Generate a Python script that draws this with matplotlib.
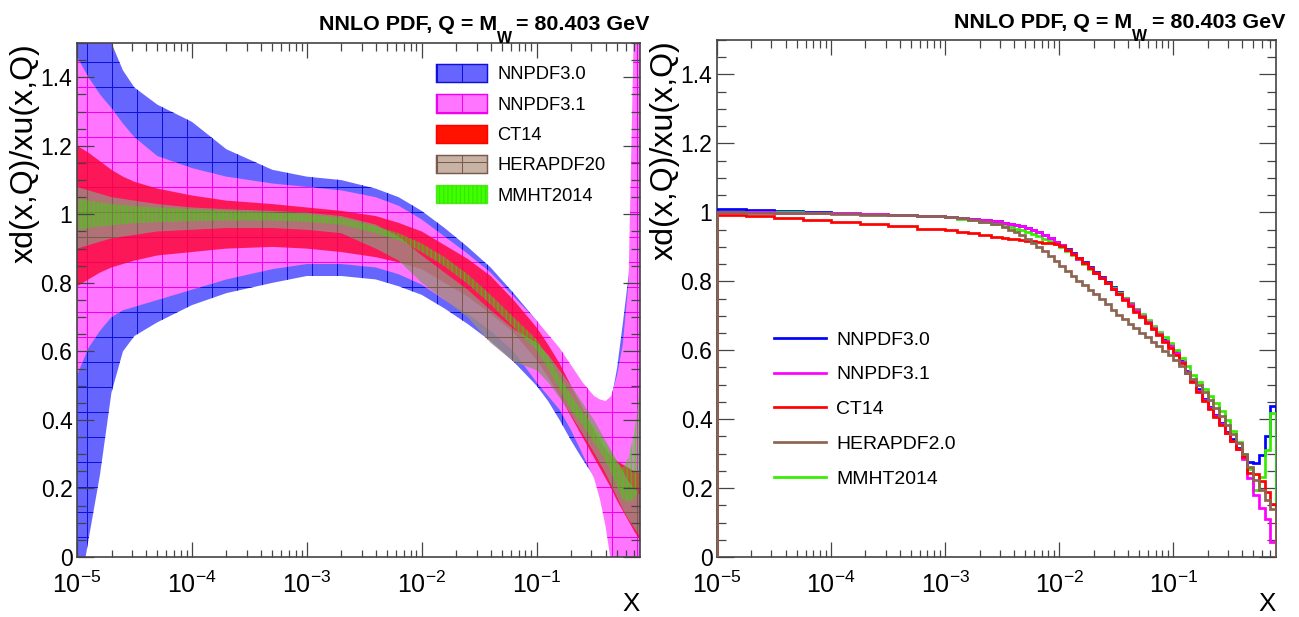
import numpy as np
import matplotlib
matplotlib.use('Agg')
import matplotlib.pyplot as plt
from matplotlib import font_manager
from matplotlib.patches import Patch
from matplotlib.lines import Line2D
from matplotlib.ticker import LogLocator, MultipleLocator, FuncFormatter, NullFormatter

# ---------------- data: left panel (uncertainty bands) ----------------
band_logx = [-5.0, -4.95, -4.9, -4.8, -4.7, -4.6, -4.5, -4.3, -4.0, -3.7, -3.3, -3.0,
             -2.7, -2.4, -2.2, -2.0, -1.8, -1.6, -1.4, -1.2, -1.0, -0.9, -0.8, -0.7,
             -0.6, -0.5, -0.45, -0.4, -0.35, -0.3, -0.25, -0.2, -0.15, -0.1]

nnpdf30_hi = [2.0, 1.9, 1.8, 1.62, 1.50, 1.42, 1.37, 1.32, 1.27, 1.19, 1.13, 1.11,
              1.10, 1.075, 1.05, 1.01, 0.96, 0.905, 0.845, 0.77, 0.69, 0.64, 0.585, 0.53,
              0.48, 0.44, 0.43, 0.43, 0.46, 0.55, 0.68, 0.82, 0.95, 1.05]
nnpdf30_lo = [-0.4, -0.05, 0.05, 0.24, 0.48, 0.60, 0.645, 0.685, 0.735, 0.77, 0.80, 0.82,
              0.82, 0.81, 0.79, 0.765, 0.725, 0.68, 0.63, 0.57, 0.50, 0.455, 0.40, 0.34,
              0.285, 0.235, 0.2, 0.16, 0.12, 0.1, 0.1, 0.12, 0.15, 0.2]

nnpdf31_hi = [1.46, 1.43, 1.40, 1.35, 1.31, 1.265, 1.225, 1.17, 1.135, 1.11, 1.09, 1.08,
              1.07, 1.05, 1.025, 0.985, 0.935, 0.885, 0.83, 0.76, 0.69, 0.65, 0.61, 0.56,
              0.51, 0.47, 0.46, 0.455, 0.47, 0.53, 0.62, 0.80, 1.6, 2.2]
nnpdf31_lo = [0.53, 0.57, 0.61, 0.66, 0.70, 0.72, 0.73, 0.75, 0.78, 0.81, 0.84, 0.855,
              0.855, 0.845, 0.825, 0.795, 0.75, 0.71, 0.66, 0.60, 0.51, 0.47, 0.43, 0.37,
              0.30, 0.23, 0.17, 0.09, -0.02, -0.2, -0.3, -0.4, -0.5, -0.6]

ct14_hi = [1.20, 1.19, 1.18, 1.155, 1.13, 1.11, 1.095, 1.075, 1.055, 1.04, 1.03, 1.02,
           1.01, 0.995, 0.975, 0.95, 0.91, 0.87, 0.82, 0.75, 0.67, 0.62, 0.565, 0.50,
           0.435, 0.37, 0.34, 0.315, 0.295, 0.28, 0.27, 0.26, 0.25, 0.245]
ct14_lo = [0.79, 0.80, 0.81, 0.83, 0.845, 0.855, 0.865, 0.88, 0.89, 0.90, 0.905, 0.90,
           0.89, 0.875, 0.86, 0.84, 0.80, 0.76, 0.71, 0.655, 0.575, 0.525, 0.47, 0.41,
           0.35, 0.29, 0.26, 0.23, 0.2, 0.165, 0.135, 0.105, 0.075, 0.05]

hera_hi = [1.08, 1.075, 1.07, 1.06, 1.05, 1.045, 1.04, 1.03, 1.02, 1.015, 1.01, 1.005,
           0.995, 0.97, 0.935, 0.88, 0.83, 0.78, 0.72, 0.665, 0.625, 0.59, 0.545, 0.50,
           0.45, 0.40, 0.37, 0.34, 0.31, 0.28, 0.25, 0.22, 0.2, 0.18]
hera_lo = [0.90, 0.905, 0.91, 0.92, 0.93, 0.935, 0.94, 0.95, 0.955, 0.96, 0.96, 0.955,
           0.945, 0.90, 0.865, 0.80, 0.75, 0.70, 0.625, 0.57, 0.545, 0.51, 0.465, 0.415,
           0.36, 0.305, 0.275, 0.245, 0.21, 0.175, 0.14, 0.11, 0.085, 0.06]

mmht_hi = [1.045, 1.043, 1.04, 1.035, 1.03, 1.027, 1.024, 1.02, 1.015, 1.01, 1.005, 1.0,
           0.99, 0.965, 0.945, 0.915, 0.875, 0.825, 0.765, 0.70, 0.635, 0.585, 0.525, 0.47,
           0.425, 0.38, 0.355, 0.33, 0.30, 0.275, 0.26, 0.29, 0.36, 0.5]
mmht_lo = [0.955, 0.957, 0.96, 0.965, 0.968, 0.971, 0.974, 0.977, 0.98, 0.982, 0.982, 0.978,
           0.97, 0.945, 0.925, 0.89, 0.848, 0.797, 0.737, 0.67, 0.605, 0.55, 0.49, 0.43,
           0.385, 0.335, 0.31, 0.28, 0.245, 0.205, 0.17, 0.16, 0.17, 0.2]

band_labels = ['NNPDF3.0', 'NNPDF3.1', 'CT14', 'HERAPDF20', 'MMHT2014']

# ---------------- data: right panel (central values, histograms) ----------------
hist_edges_log = [-5.0, -4.75, -4.5, -4.25, -4.0, -3.75, -3.5, -3.25, -3.0, -2.9, -2.8, -2.7,
                  -2.6, -2.5, -2.45, -2.4, -2.35, -2.3, -2.25, -2.2, -2.15, -2.1, -2.05, -2.0,
                  -1.95, -1.9, -1.85, -1.8, -1.75, -1.7, -1.65, -1.6, -1.55, -1.5, -1.45, -1.4,
                  -1.35, -1.3, -1.25, -1.2, -1.15, -1.1, -1.05, -1.0, -0.95, -0.9, -0.85, -0.8,
                  -0.75, -0.7, -0.65, -0.6, -0.55, -0.5, -0.45, -0.4, -0.35, -0.3, -0.25, -0.2,
                  -0.15, -0.1]

cv_nnpdf30 = [1.010, 1.008, 1.005, 1.002, 0.999, 0.996, 0.993, 0.990,
              0.987, 0.985, 0.982, 0.978, 0.974,
              0.970, 0.967, 0.963, 0.959, 0.954, 0.948, 0.942, 0.934, 0.925, 0.915,
              0.905, 0.893, 0.881, 0.868, 0.855, 0.841, 0.827, 0.813, 0.798, 0.783,
              0.768, 0.752, 0.736, 0.719, 0.702, 0.685, 0.667, 0.649, 0.631, 0.614,
              0.594, 0.569, 0.541, 0.513, 0.486, 0.459, 0.434, 0.411, 0.388, 0.364,
              0.341, 0.316, 0.292, 0.275, 0.272, 0.295, 0.352, 0.438]
cv_nnpdf31 = [1.001, 1.000, 0.999, 0.998, 0.997, 0.995, 0.993, 0.990,
              0.987, 0.985, 0.982, 0.978, 0.974,
              0.970, 0.967, 0.963, 0.959, 0.954, 0.948, 0.942, 0.934, 0.925, 0.915,
              0.904, 0.892, 0.879, 0.866, 0.852, 0.838, 0.823, 0.809, 0.794, 0.779,
              0.764, 0.749, 0.733, 0.716, 0.699, 0.682, 0.664, 0.646, 0.628, 0.611,
              0.591, 0.566, 0.538, 0.510, 0.483, 0.456, 0.431, 0.408, 0.385, 0.361,
              0.338, 0.313, 0.285, 0.230, 0.180, 0.142, 0.110, 0.043]
cv_ct14 = [0.992, 0.988, 0.984, 0.979, 0.973, 0.967, 0.960, 0.953,
           0.948, 0.944, 0.939, 0.934, 0.929,
           0.926, 0.924, 0.922, 0.920, 0.918, 0.916, 0.914, 0.912, 0.910, 0.907,
           0.901, 0.891, 0.880, 0.867, 0.853, 0.839, 0.825, 0.810, 0.795, 0.779,
           0.762, 0.746, 0.729, 0.712, 0.695, 0.678, 0.661, 0.643, 0.625, 0.607,
           0.587, 0.562, 0.535, 0.507, 0.480, 0.453, 0.428, 0.405, 0.382, 0.359,
           0.336, 0.313, 0.290, 0.245, 0.240, 0.220, 0.190, 0.155]
cv_hera20 = [1.000, 0.999, 0.998, 0.997, 0.995, 0.993, 0.991, 0.989,
             0.986, 0.983, 0.979, 0.973, 0.965,
             0.957, 0.950, 0.942, 0.933, 0.923, 0.912, 0.900, 0.887, 0.873, 0.858,
             0.843, 0.829, 0.815, 0.801, 0.788, 0.775, 0.762, 0.748, 0.733, 0.718,
             0.703, 0.690, 0.677, 0.664, 0.651, 0.637, 0.624, 0.611, 0.598, 0.586,
             0.573, 0.553, 0.535, 0.517, 0.498, 0.478, 0.455, 0.432, 0.408, 0.382,
             0.356, 0.330, 0.300, 0.262, 0.222, 0.195, 0.165, 0.138]
cv_mmht14 = [1.002, 1.001, 1.000, 0.999, 0.997, 0.995, 0.993, 0.990,
             0.986, 0.982, 0.977, 0.972, 0.966,
             0.961, 0.957, 0.953, 0.948, 0.943, 0.937, 0.931, 0.924, 0.917, 0.909,
             0.900, 0.889, 0.877, 0.864, 0.851, 0.837, 0.823, 0.809, 0.795, 0.780,
             0.766, 0.751, 0.736, 0.720, 0.704, 0.688, 0.671, 0.654, 0.637, 0.620,
             0.601, 0.578, 0.553, 0.528, 0.507, 0.487, 0.467, 0.446, 0.423, 0.398,
             0.367, 0.334, 0.300, 0.255, 0.195, 0.232, 0.310, 0.418]

line_labels = ['NNPDF3.0', 'NNPDF3.1', 'CT14', 'HERAPDF2.0', 'MMHT2014']

title_main = 'NNLO PDF, Q = M'
title_sub = 'W'
title_tail = ' = 80.403 GeV'
ylabel_text = 'xd(x,Q)/xu(x,Q)'

# ---------------- fonts / style ----------------
available = {f.name for f in font_manager.fontManager.ttflist}
BASE = 'Liberation Sans' if 'Liberation Sans' in available else 'DejaVu Sans'
NARROW = 'Liberation Sans Narrow' if 'Liberation Sans Narrow' in available else BASE

plt.rcParams['font.family'] = [BASE, 'DejaVu Sans']
plt.rcParams['mathtext.fontset'] = 'custom'
plt.rcParams['mathtext.rm'] = BASE
plt.rcParams['mathtext.it'] = BASE + ':italic'
plt.rcParams['mathtext.bf'] = BASE + ':bold'
plt.rcParams['hatch.linewidth'] = 0.5

DPI = 150
W, H = 1299, 617
fig = plt.figure(figsize=(W / DPI, H / DPI), dpi=DPI)
axL = fig.add_axes([77 / W, 60 / H, 563 / W, 514 / H])
axR = fig.add_axes([717 / W, 60 / H, 559 / W, 517 / H])

FRAME = '#444444'

# ---------------- left panel ----------------
bx = 10 ** np.array(band_logx)
band_styles = [
    (nnpdf30_lo, nnpdf30_hi, (0.40, 0.40, 1.0, 1.0), '#1010d8', '+'),
    (nnpdf31_lo, nnpdf31_hi, (1.0, 0.46, 1.0, 1.0), '#f000f0', '+'),
    (ct14_lo, ct14_hi, (0.98, 0.0, 0.18, 0.80), '#ff0000', None),
    (hera_lo, hera_hi, (0.62, 0.54, 0.50, 0.80), '#7a5a4a', '+'),
    (mmht_lo, mmht_hi, (0.30, 0.80, 0.10, 0.40), (0.2, 0.85, 0.0, 0.7), '||||||'),
]
legend_faces = [(0.40, 0.40, 1.0, 1.0), (1.0, 0.46, 1.0, 1.0), (1.0, 0.07, 0.0, 1.0),
                (0.78, 0.70, 0.65, 1.0), (0.25, 1.0, 0.0, 1.0)]
legend_handles = []
for (lo, hi, face, hcol, hatch), lab, lf in zip(band_styles, band_labels, legend_faces):
    axL.fill_between(bx, lo, hi, facecolor=face, edgecolor=hcol if hatch else 'none',
                     hatch=hatch, linewidth=0)
    legend_handles.append(Patch(facecolor=lf, edgecolor=hcol, hatch=hatch,
                                linewidth=0.7, label=lab))

legL = axL.legend(handles=legend_handles, loc='upper left',
                  bbox_to_anchor=((436 - 77) / 563, (557 - 64) / 514),
                  frameon=False, borderpad=0, borderaxespad=0,
                  handlelength=2.79, handleheight=1.15, labelspacing=0.60,
                  handletextpad=0.55, prop={'family': NARROW, 'size': 8.8})

# ---------------- right panel ----------------
edges = 10 ** np.array(hist_edges_log)
line_series = [
    (cv_nnpdf30, '#0000ff'),
    (cv_nnpdf31, '#ff00ff'),
    (cv_ct14, '#ff0000'),
    (cv_hera20, '#8c6450'),
    (cv_mmht14, '#33ee00'),
]
draw_order = [0, 4, 1, 2, 3]
for i in draw_order:
    vals, col = line_series[i]
    axR.stairs(vals, edges, baseline=0, fill=False, color=col, linewidth=1.3, zorder=3)
line_handles = [Line2D([], [], color=c, linewidth=1.3, label=l)
                for (v, c), l in zip(line_series, line_labels)]
legR = axR.legend(handles=line_handles, loc='upper left',
                  bbox_to_anchor=((774 - 717) / 559, (557 - 331) / 517),
                  frameon=False, borderpad=0, borderaxespad=0,
                  handlelength=2.68, labelspacing=0.89, handletextpad=0.52,
                  prop={'family': BASE, 'size': 9.3})

# ---------------- axes styling ----------------
for ax in (axL, axR):
    ax.set_xscale('log')
    ax.set_xlim(1e-5, 10 ** -0.1)
    ax.set_ylim(0, 1.5)
    ax.xaxis.set_major_locator(LogLocator(base=10, numticks=12))
    ax.xaxis.set_minor_locator(LogLocator(base=10, subs=np.arange(2, 10), numticks=30))
    ax.xaxis.set_minor_formatter(NullFormatter())
    ax.yaxis.set_major_locator(MultipleLocator(0.2))
    ax.yaxis.set_minor_locator(MultipleLocator(0.05))
    ax.yaxis.set_major_formatter(FuncFormatter(lambda v, p: f'{v:g}'))
    ax.tick_params(which='both', direction='in', top=True, right=True,
                   color=FRAME, width=0.6)
    ax.tick_params(axis='x', which='major', length=7.2, labelsize=12.0, pad=7.0)
    ax.tick_params(axis='x', which='minor', length=3.6)
    ax.tick_params(axis='y', which='major', length=8.2, labelsize=11, pad=2.2)
    ax.tick_params(axis='y', which='minor', length=4.3)
    for sp in ax.spines.values():
        sp.set_color(FRAME)
        sp.set_linewidth(0.8)
    ax.set_ylabel(ylabel_text, fontsize=15.4, loc='top')
    ax.yaxis.set_label_coords(-37 / (563 if ax is axL else 559), 1.0)
    ax.set_xlabel('X', fontsize=12.5, loc='right', family=NARROW)
    ax.xaxis.set_label_coords(1.0, -0.068)

# ---------------- titles (M with a low-hanging W subscript) ----------------
renderer = fig.canvas.get_renderer()


def draw_title(x_right_px, baseline_px):
    yb = (H - baseline_px) / H
    t3 = fig.text(x_right_px / W, yb, title_tail, ha='right', va='baseline',
                  fontsize=10.3, fontweight='bold', family=NARROW)
    bb3 = t3.get_window_extent(renderer)
    t2 = fig.text((bb3.x0 + 1) / W, (H - baseline_px - 13) / H, title_sub, ha='right',
                  va='baseline', fontsize=7.6, fontweight='bold', family=NARROW)
    bb2 = t2.get_window_extent(renderer)
    fig.text((bb2.x0 + 1) / W, yb, title_main, ha='right', va='baseline',
             fontsize=10.3, fontweight='bold', family=NARROW)


draw_title(650, 30)
draw_title(1285, 28)

fig.savefig('out.png', dpi=DPI)
